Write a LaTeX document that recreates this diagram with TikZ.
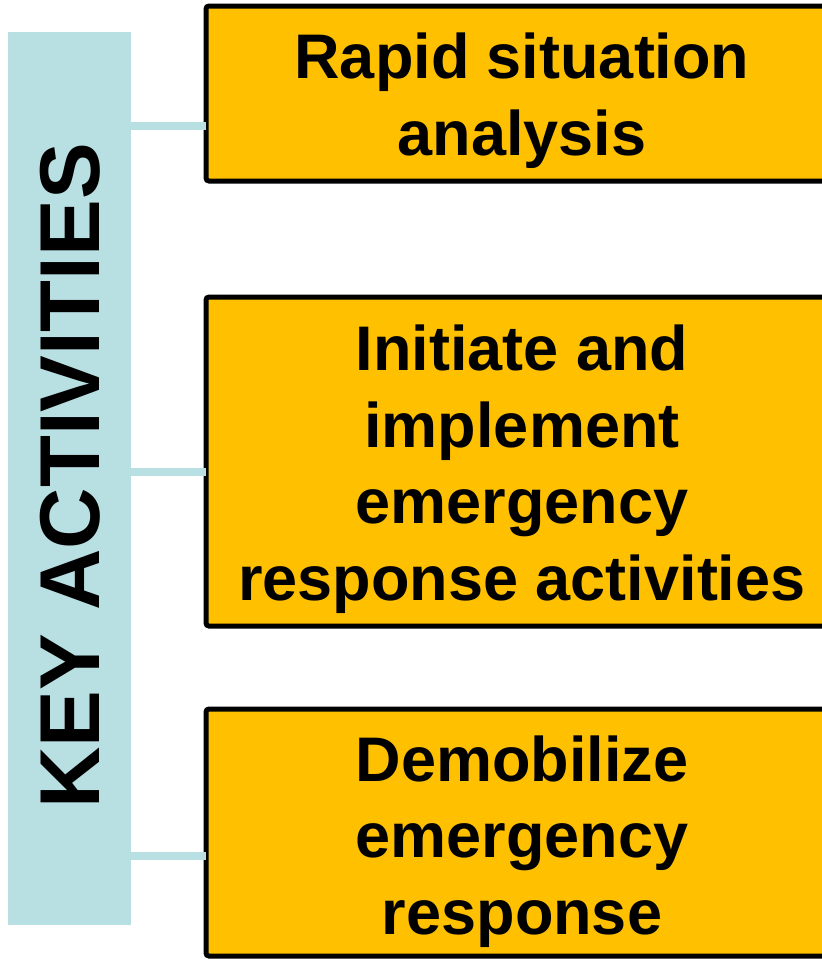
\documentclass[tikz,border=0pt]{standalone}
\usepackage{fontspec}
\setmainfont{Liberation Sans}
\definecolor{barblue}{HTML}{B8DFE2}
\definecolor{boxorange}{HTML}{FFC000}
\begin{document}
\begin{tikzpicture}[x=1pt,y=-1pt,
  actbox/.style={draw=black,line width=5pt,fill=boxorange,rounded corners=3pt},
  acttext/.style={font=\fontsize{63}{76.5}\selectfont\bfseries,align=center,inner sep=0pt},
  link/.style={draw=barblue,line width=8pt}]
\useasboundingbox (0,0) rectangle (822,959);
\begin{scope}
\clip (0,0) rectangle (822,959);
\fill[barblue] (8,32) rectangle (131,925);
\node[rotate=90,font=\fontsize{85}{100}\selectfont\bfseries,inner sep=0pt] (key) at (70,476) {KEY ACTIVITIES};
\draw[actbox] (206,6) rectangle (860,181);
\draw[actbox] (206,297) rectangle (860,626);
\draw[actbox] (206,709) rectangle (860,956);
\coordinate (b1) at (206,126);
\coordinate (b2) at (206,472);
\coordinate (b3) at (206,856);
\coordinate (k1) at (124,126);
\coordinate (k2) at (124,472);
\coordinate (k3) at (124,856);
\draw[link] (k1) -- (b1);
\draw[link] (k2) -- (b2);
\draw[link] (k3) -- (b3);
\node[acttext] (t1) at (522,100.5) {Rapid situation\\analysis};
\node[acttext] (t2) at (522,469) {Initiate and\\implement\\emergency\\response activities};
\node[acttext] (t3) at (522,841.5) {Demobilize\\emergency\\response};
\end{scope}
\end{tikzpicture}
\end{document}
